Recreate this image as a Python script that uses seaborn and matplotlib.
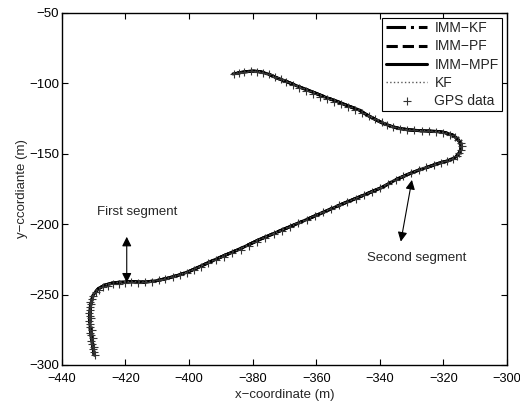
import numpy as np
import pandas as pd
import matplotlib
matplotlib.use("Agg")
import matplotlib.pyplot as plt
import seaborn as sns

# estimated trajectory (all four filters overlap on the plot)
track_x = [-429.8, -430.4, -431.0, -431.3, -431.0, -430.2, -428.6, -426.5, -424.0, -421.0,
           -418.0, -414.0, -410.5, -407.0, -403.5, -400.0, -397.0, -394.0, -390.0, -384.0,
           -377.9, -371.0, -364.3, -358.0, -351.7, -345.5, -339.2, -335.0, -331.0, -327.6,
           -324.0, -321.4, -318.5, -316.2, -315.0, -314.4, -314.6, -315.6, -317.2, -319.5,
           -321.4, -324.5, -327.6, -331.0, -334.0, -336.5, -339.0, -341.1, -344.0, -346.5,
           -350.0, -353.5, -357.5, -361.2, -365.0, -368.4, -372.1, -375.0, -377.5, -380.0,
           -382.5, -386.2]
track_y = [-293.0, -285.0, -276.0, -267.0, -258.0, -250.5, -246.0, -243.3, -241.8, -241.1,
           -240.9, -241.2, -240.3, -238.6, -236.4, -233.6, -230.6, -227.4, -223.4, -217.6,
           -211.0, -204.4, -198.0, -191.8, -185.6, -179.8, -173.8, -168.5, -164.5, -161.5,
           -158.8, -156.7, -155.0, -152.5, -149.6, -146.0, -142.5, -139.3, -136.6, -135.0,
           -134.3, -133.9, -133.6, -133.0, -132.0, -130.5, -128.3, -126.0, -122.5, -118.9,
           -116.0, -112.8, -109.5, -106.1, -102.8, -99.6, -96.4, -93.5, -91.8, -91.3,
           -91.8, -93.3]

methods = ["IMM\u2212KF", "IMM\u2212PF", "IMM\u2212MPF", "KF"]
method_styles = ["-.", "--", "-", ":"]

# GPS fixes
gps_x = [-429.6, -429.9, -430.2, -429.8, -430.4, -430.7, -430.3, -430.9, -431.1, -430.6,
         -431.3, -431.0, -431.4, -430.8, -431.2, -431.5, -431.0, -431.3, -430.9, -431.0,
         -430.6, -430.2,
         -429.4, -428.3, -427.0, -425.5, -423.8, -422.0, -420.1, -418.2, -416.0, -413.8,
         -411.5, -409.6, -407.5, -405.2, -403.0, -400.8, -398.5, -396.3, -394.0,
         -391.5, -389.0, -386.4, -383.8, -381.3, -378.7, -376.0, -373.4, -370.8, -368.2,
         -365.6, -363.0, -360.5, -358.0, -355.4, -352.8, -350.2, -347.6, -345.0, -342.4,
         -339.8, -337.4, -335.0, -332.6, -330.2, -327.8, -325.4, -323.0, -320.8, -318.8,
         -317.0, -315.8, -315.0, -314.5, -314.3, -314.6, -315.3, -316.4, -318.0, -320.0,
         -322.2, -324.5, -326.8, -329.2, -331.6, -333.8, -335.8, -337.6, -339.4, -341.4,
         -343.4, -345.6, -347.8, -350.0, -352.2, -354.4, -356.6, -358.8, -361.0, -363.2,
         -365.4, -367.4, -369.4, -371.2, -373.0, -374.8, -376.6, -378.6, -380.6, -382.6,
         -384.4, -386.0]
gps_y = [-293.0, -291.0, -289.0, -287.0, -285.0, -283.0, -281.0, -279.0, -277.0, -275.0,
         -273.0, -271.0, -269.0, -267.0, -265.0, -263.0, -261.0, -259.0, -257.0, -255.0,
         -253.0, -251.0,
         -248.5, -246.6, -245.0, -243.8, -242.7, -242.2, -241.6, -241.3, -241.5, -241.1,
         -240.9, -240.0, -239.0, -237.8, -236.4, -234.9, -232.8, -230.3, -227.9,
         -225.4, -223.0, -220.6, -218.1, -215.5, -212.6, -209.9, -207.2, -204.6, -202.0,
         -199.4, -196.8, -194.0, -191.5, -188.9, -186.6, -184.2, -181.9, -179.6, -177.0,
         -174.4, -171.6, -168.6, -165.8, -163.4, -161.4, -159.6, -158.2, -156.6, -155.2,
         -153.6, -151.6, -149.5, -147.2, -144.8, -142.4, -140.2, -138.3, -136.7, -135.3,
         -134.5, -134.0, -133.6, -133.2, -132.8, -132.2, -131.0, -129.4, -127.6, -125.6,
         -123.4, -121.0, -119.0, -117.0, -115.0, -113.2, -111.4, -109.5, -107.4, -105.4,
         -103.3, -101.0, -98.9, -97.0, -95.2, -93.6, -92.3, -91.6, -91.4, -91.9,
         -92.7, -93.2]

x_ticks = [-440, -420, -400, -380, -360, -340, -320, -300]
y_ticks = [-300, -250, -200, -150, -100, -50]

sns.set_theme(style="ticks")
plt.rcParams["font.family"] = ["Liberation Sans", "DejaVu Sans"]
plt.rcParams["axes.unicode_minus"] = True

fig, ax = plt.subplots(figsize=(5.2, 4.05), dpi=100)
fig.subplots_adjust(left=0.119, right=0.975, top=0.968, bottom=0.099)

track_df = pd.DataFrame({"x": track_x, "y": track_y})
for name, ls in zip(methods, method_styles):
    lw = 1.0 if name == "KF" else 2.2
    col = "0.35" if name == "KF" else "black"
    sns.lineplot(data=track_df, x="x", y="y", sort=False, estimator=None, ax=ax,
                 color=col, linestyle=ls, linewidth=lw, label=name)

sns.scatterplot(x=gps_x, y=gps_y, marker="+", s=36, color="0.2", linewidth=0.8,
                ax=ax, label="GPS data", zorder=3)

ax.set_xlim(-440, -300)
ax.set_ylim(-300, -50)
ax.set_xticks(x_ticks)
ax.set_yticks(y_ticks)
ax.tick_params(direction="in", length=4, width=0.8, top=True, right=True,
               labelsize=9.5, colors="black")
ax.tick_params(axis="x", pad=6, labelsize=9.2)
ax.tick_params(axis="y", pad=2)
for sp in ax.spines.values():
    sp.set_visible(True)
    sp.set_color("black")
    sp.set_linewidth(1.0)

ax.set_xlabel("x\u2212coordinate (m)", fontsize=9.5, labelpad=3)
ax.set_ylabel("y\u2212ccordiante (m)", fontsize=9.5, labelpad=1)

# annotations
arrow_kw = dict(arrowstyle="<|-|>", color="black", lw=0.8, mutation_scale=14,
                shrinkA=0, shrinkB=0)
ax.annotate("", xy=(-419.6, -241.5), xytext=(-419.6, -209), arrowprops=arrow_kw)
ax.text(-429, -191.5, "First segment", fontsize=9.5, ha="left", va="center")
ax.annotate("", xy=(-329.9, -168.6), xytext=(-333.4, -212.4), arrowprops=arrow_kw)
ax.text(-344, -224, "Second segment", fontsize=9.5, ha="left", va="center")

leg = ax.legend(loc="upper right", fontsize=10, frameon=True, fancybox=False,
                edgecolor="black", framealpha=1, handlelength=3.0, labelspacing=0.3,
                borderaxespad=0.35, borderpad=0.25, handletextpad=0.5)
leg.get_frame().set_linewidth(0.8)

fig.savefig("out.png", dpi=100)
